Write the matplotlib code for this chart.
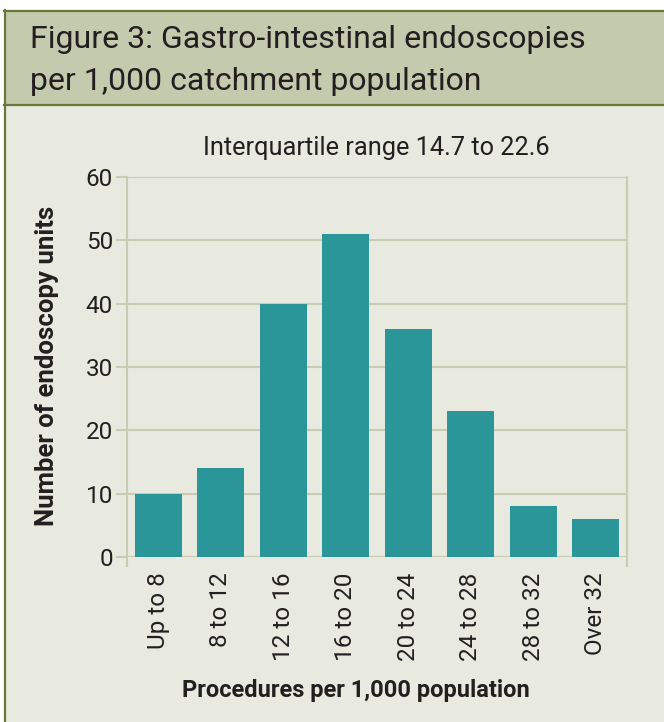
import matplotlib
matplotlib.use("Agg")
import matplotlib.pyplot as plt
from matplotlib.patches import Rectangle
from matplotlib.lines import Line2D

categories = ["Up to 8", "8 to 12", "12 to 16", "16 to 20",
              "20 to 24", "24 to 28", "28 to 32", "Over 32"]
units = [10, 14, 40, 51, 36, 23, 8, 6]
y_ticks = [0, 10, 20, 30, 40, 50, 60]

title_lines = ["Figure 3: Gastro-intestinal endoscopies",
               "per 1,000 catchment population"]
subtitle = "Interquartile range 14.7 to 22.6"
ylabel = "Number of endoscopy units"
xlabel = "Procedures per 1,000 population"

W, H = 664, 722
BAR = "#2a9699"
GRID = "#c9cbb3"
BODY = "#e8eadf"
HEADER = "#c4caad"
EDGE = "#67783a"
TEXT = "#231f20"

plt.rcParams["font.family"] = ["Roboto", "DejaVu Sans"]

fig = plt.figure(figsize=(W / 100, H / 100), dpi=100)
fig.patch.set_facecolor("white")


def px(x, y):
    # pixel coords from top-left -> figure fraction
    return x / W, 1 - y / H


# panel background, header band and borders
fig.patches.append(Rectangle(px(4, H), (W - 4) / W, (H - 104) / H,
                             transform=fig.transFigure, facecolor=BODY,
                             edgecolor="none", zorder=-3))
fig.patches.append(Rectangle(px(4, 104), (W - 4) / W, 94 / H,
                             transform=fig.transFigure, facecolor=HEADER,
                             edgecolor="none", zorder=-3))
for xs, ys in [((4, W), (10.5, 10.5)), ((4, W), (104.5, 104.5)), ((5, 5), (10, H))]:
    x0, y0 = px(xs[0], ys[0])
    x1, y1 = px(xs[1], ys[1])
    fig.lines.append(Line2D([x0, x1], [y0, y1], transform=fig.transFigure,
                            color=EDGE, lw=1.6, zorder=-2))

for line, base in zip(title_lines, [48, 90]):
    fig.text(*px(30, base), line, fontsize=23, color=TEXT, va="baseline", ha="left")

left, top, right, bottom = 127, 177, 627, 557
ax = fig.add_axes([left / W, 1 - bottom / H, (right - left) / W, (bottom - top) / H])
ax.set_facecolor("none")

x = range(len(categories))
ax.bar(x, units, width=0.75, color=BAR, zorder=2)

ax.set_xlim(-0.5, len(categories) - 0.5)
ax.set_ylim(0, 60)
ax.set_yticks(y_ticks)
ax.set_xticks(list(x))
ax.set_xticklabels(categories, rotation=90, fontsize=17.5, color=TEXT)
ax.tick_params(axis="x", length=0, pad=11)
ax.tick_params(axis="y", length=8, width=1.5, color=GRID, labelsize=17.5,
               labelcolor=TEXT, pad=2)
ax.grid(axis="y", color=GRID, lw=1.5, zorder=0)
for side in ["top", "bottom"]:
    ax.spines[side].set_visible(False)
for side in ["left", "right"]:
    ax.spines[side].set_color(GRID)
    ax.spines[side].set_linewidth(1.5)
    ax.spines[side].set_bounds(-1.45, 60)
ax.axhline(0, color=GRID, lw=1.5, zorder=1)

fig.text(*px(376, 155), subtitle, fontsize=18.3, color=TEXT,
         ha="center", va="baseline")
fig.text(*px(47, 366), ylabel, fontsize=18.5, fontweight="bold",
         color=TEXT, ha="center", va="center", rotation=90)
fig.text(*px(356, 691), xlabel, fontsize=17,
         fontweight="bold", color=TEXT, ha="center", va="center")

fig.savefig("out.png", dpi=100, facecolor=fig.get_facecolor())
